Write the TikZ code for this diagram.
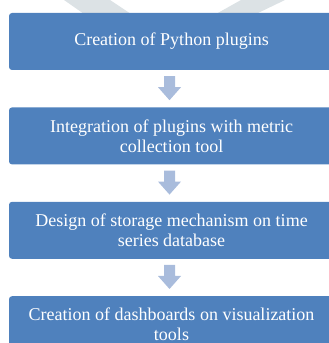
\documentclass[tikz,border=0pt]{standalone}
\usepackage{fontspec}
\setmainfont{Liberation Serif}
\usetikzlibrary{positioning,calc}

\definecolor{boxblue}{HTML}{4F81BD}
\definecolor{arrowblue}{HTML}{A9BCDC}
\definecolor{markgray}{HTML}{DCE2E5}

\begin{document}
\begin{tikzpicture}[x=1pt,y=1pt,
    stepbox/.style={rectangle,rounded corners=3pt,fill=boxblue,text=white,
      minimum width=325pt,minimum height=57pt,inner sep=2pt,align=center,
      font=\fontsize{18}{20}\selectfont},
    blockarrow/.style={fill=arrowblue}]
  \useasboundingbox (0,0) rectangle (329,343);

  % faint watermark behind the top box
  \fill[markgray] (64,343) -- (110,343) -- (131,329) -- (84,329) -- cycle;
  \fill[markgray] (241,343) -- (285,343) -- (256,329) -- (216,329) -- cycle;

  \node[stepbox] (plugins) at (171.5,301.5) {Creation of Python plugins};
  \node[stepbox,below=37pt of plugins] (integ)
    {Integration of plugins with metric\\collection tool};
  \node[stepbox,below=37pt of integ] (storage)
    {Design of storage mechanism on time\\series database};
  \node[stepbox,below=37pt of storage] (dash)
    {Creation of dashboards on visualization\\tools};

  % block arrows between the steps
  \foreach \a/\b in {plugins/integ,integ/storage,storage/dash}{
    \fill[blockarrow] ($(\a.south)+(-7.5,-6)$) -- ++(11,0) -- ++(0,-11)
      -- ++(6,0) -- ($(\b.north)+(-2,7)$) -- ++(-11.5,13)
      -- ++(6,0) -- cycle;
  }
\end{tikzpicture}
\end{document}
